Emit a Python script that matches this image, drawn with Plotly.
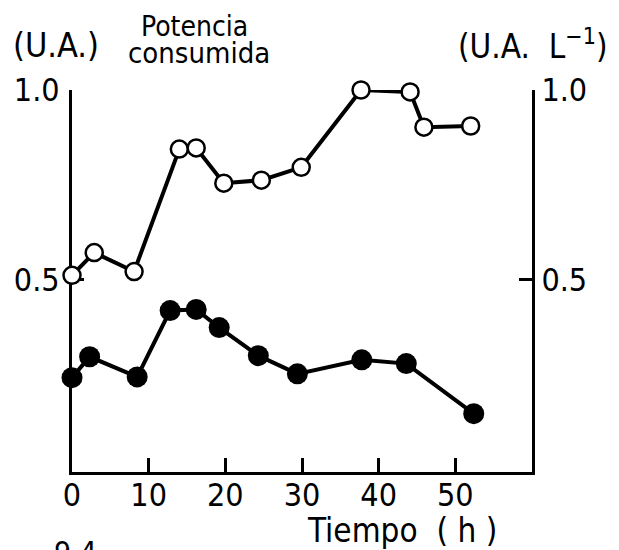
import plotly.graph_objects as go

# Time (h)
t_open = [0, 2.9, 8.1, 14.0, 16.2, 19.8, 24.7, 29.9, 37.7, 44.1, 45.9, 52.0]
y_open = [0.511, 0.571, 0.521, 0.844, 0.847, 0.754, 0.762, 0.796, 1.0, 0.995, 0.902, 0.905]

t_filled = [0, 2.3, 8.5, 12.8, 16.2, 19.2, 24.3, 29.4, 37.8, 43.6, 52.4]
y_filled = [0.241, 0.296, 0.243, 0.418, 0.421, 0.373, 0.299, 0.251, 0.288, 0.278, 0.146]

x_ticks = [0, 10, 20, 30, 40, 50]
y_ticks = [0.5, 1.0]
y_ticklabels = ["0.5", "1.0"]

FONT = "DejaVu Sans Condensed, DejaVu Sans, sans-serif"

fig = go.Figure()
fig.add_trace(go.Scatter(
    x=t_filled, y=y_filled, mode="lines+markers",
    line=dict(color="black", width=4),
    marker=dict(symbol="circle", size=21, color="black"),
    cliponaxis=False, yaxis="y", showlegend=False,
))
fig.add_trace(go.Scatter(
    x=t_open, y=y_open, mode="lines+markers",
    line=dict(color="black", width=4),
    marker=dict(symbol="circle", size=17, color="white", line=dict(color="black", width=2.5)),
    cliponaxis=False, yaxis="y2", showlegend=False,
))

axis_common = dict(
    showgrid=False, zeroline=False, showline=True, linecolor="black", linewidth=3,
    ticks="inside", tickcolor="black", tickwidth=3, layer="below traces",
    automargin=False,
    tickfont=dict(family=FONT, size=32, color="black"),
)

# page body has an 8px margin, so the figure is drawn 8px smaller
fig.update_layout(
    template="none",
    width=611, height=542,
    margin=dict(l=64, r=87, t=82, b=78, autoexpand=False),
    paper_bgcolor="white", plot_bgcolor="white",
    xaxis=dict(range=[0, 60], tickvals=x_ticks, ticklen=14, ticklabelstandoff=-7, **axis_common),
    yaxis=dict(range=[-0.008, 1.0], tickvals=y_ticks, ticktext=y_ticklabels,
               ticklen=12, side="left", ticklabelstandoff=3, **axis_common),
    yaxis2=dict(range=[-0.008, 1.0], tickvals=y_ticks, ticktext=y_ticklabels,
                ticklen=13, side="right", overlaying="y", ticklabelstandoff=0,
                **axis_common),
)

def ann(text, x, y, size):
    fig.add_annotation(text=text, x=x, y=y, xref="paper", yref="paper",
                       xanchor="center", yanchor="middle", showarrow=False,
                       font=dict(family=FONT, size=size, color="black"))

ann("(U.A.)", -0.035, 1.118, 34)
ann("Potencia", 0.267, 1.166, 28)
ann("consumida", 0.276, 1.097, 29)
ann("(U.A.\u00a0\u00a0L<sup>−1</sup>)", 1.002, 1.118, 33)
ann("Tiempo\u00a0\u00a0(\u00a0h\u00a0)", 0.717, -0.154, 33)
ann("9.4", 0.007, -0.212, 30)

fig.write_html("out.html")
